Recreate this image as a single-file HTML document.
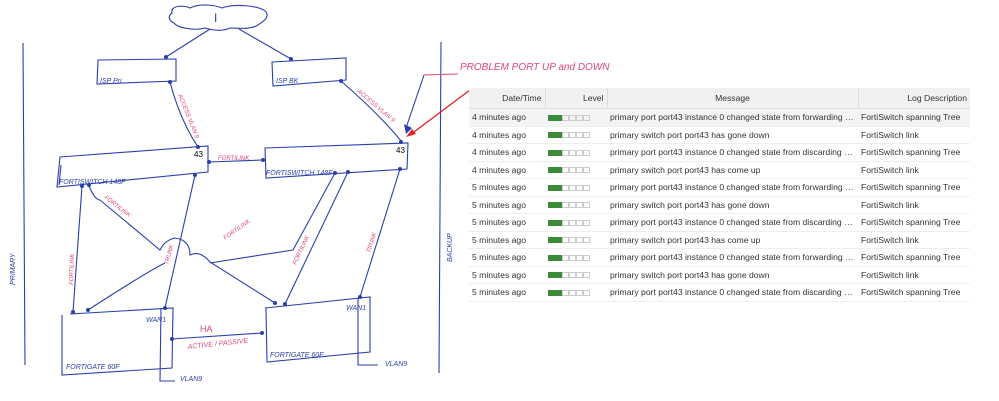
<!DOCTYPE html>
<html><head><meta charset="utf-8"><style>
body{margin:0;width:999px;height:401px;background:#fff;overflow:hidden;position:relative;font-family:"Liberation Sans",sans-serif}
svg{position:absolute;left:0;top:0}
table{position:absolute;left:469px;top:88px;border-collapse:collapse;font-size:8.6px;color:#333;width:501px;table-layout:fixed}
th{background:#f1f1f1;font-weight:normal;height:20px;border-right:1px solid #ddd;border-bottom:1px solid #ddd;padding:0 3px;white-space:nowrap;overflow:hidden}
td{height:16.5px;border-bottom:1px solid #eee;padding:0 3px;white-space:nowrap;overflow:hidden;text-overflow:ellipsis}
tr.f td{background:#f4f4f4}
.lv{display:inline-block;width:7px;height:6px;border:1px solid #ccc;box-sizing:border-box;vertical-align:middle}
.g{background:#3a8a3a;border-color:#3a8a3a}
</style></head><body>
<svg width="999" height="401" viewBox="0 0 999 401" fill="none" stroke="#2a3fae" stroke-width="1.1">
<path d="M172 13 C170 5 185 5 190 8 C200 3 215 5 222 8 C235 3 262 6 266 12 C270 18 262 22 258 25 C250 30 238 28 230 28 C222 32 212 30 205 28 C195 31 178 28 174 23 C168 20 168 16 172 13Z"/>
<text x="214" y="22" font-family="Liberation Sans" font-size="12" fill="#2a3fae" stroke="none">I</text>
<path d="M210 29 L166 57 M239 29 L291 59"/>
<path d="M98 60 L176 59 L176 81 L97 84 Z"/>
<path d="M272 62 L346 58 L346 80 L273 86 Z"/>
<path d="M170 82 Q180 120 198 147 M341 81 Q380 115 402 142"/>
<path d="M60 157 L208 146 L208 172 L57 187 Z M61 165 L59 185"/>
<path d="M265 148 L408 143 L407 169 L266 178 Z"/>
<path d="M209 162 L263 160"/>
<path d="M23 43 L25 365 M441 42 L439 373"/>
<path d="M424 75 L406 128"/>
<path d="M82 186 L73 312 M89 186 Q95 200 100 200 L160 250 Q165 240 175 238 Q190 240 190 255 Q200 250 210 262 L275 303"/>
<path d="M195 175 L165 308"/>
<path d="M335 173 L293 250 L210 263 M165 263 Q150 270 88 310"/>
<path d="M348 172 L285 304 M400 169 L360 297"/>
<path d="M70 314 L173 308 L172 368 L62 375 L62 315 M161 308 L160 381 L175 381"/>
<path d="M265 308 L370 297 L370 352 L267 362 L266 308 M358 298 L358 365 L378 365"/>
<path d="M172 339 L262 333"/>
<g fill="#2a3fae" stroke="none">
<circle cx="166" cy="57" r="2"/><circle cx="291" cy="59" r="2"/><circle cx="170" cy="82" r="2"/><circle cx="341" cy="81" r="2"/>
<circle cx="198" cy="147" r="2"/><circle cx="401" cy="142" r="2"/><circle cx="209" cy="162" r="2"/><circle cx="263" cy="160" r="2"/>
<circle cx="82" cy="186" r="2"/><circle cx="89" cy="185" r="2"/><circle cx="195" cy="175" r="2"/><circle cx="335" cy="173" r="2"/><circle cx="348" cy="172" r="2"/><circle cx="400" cy="169" r="2"/>
<circle cx="73" cy="312" r="2"/><circle cx="88" cy="310" r="2"/><circle cx="165" cy="308" r="2"/><circle cx="275" cy="303" r="2"/><circle cx="285" cy="304" r="2"/><circle cx="360" cy="297" r="2"/>
<circle cx="172" cy="339" r="2"/><circle cx="262" cy="333" r="2"/><path d="M404 124 L412 128 L406 134Z"/>
</g>
<path d="M458 74 L424 75" stroke="#e0457a"/>
<path d="M470 90 L410 135" stroke="#e52222" stroke-width="1.3"/>
<path d="M406 137 L416 134 L412 129Z" fill="#e52222" stroke="none"/>
<g font-family="Liberation Sans" font-size="7" fill="#2a3fae" stroke="none" font-style="italic">
<text x="100" y="83">ISP Pri</text><text x="276" y="83">ISP BK</text>
<text x="59" y="184">FORTISWITCH 148F</text><text x="266" y="175">FORTISWITCH 148F</text>
<text x="66" y="369">FORTIGATE 60F</text><text x="270" y="357">FORTIGATE 60F</text>
<text x="146" y="322">WAN1</text><text x="346" y="310">WAN1</text>
<text x="180" y="381">VLAN9</text><text x="385" y="366">VLAN9</text>
<text x="15" y="285" transform="rotate(-90 15 285)">PRIMARY</text>
<text x="452" y="262" transform="rotate(-90 452 262)">BACKUP</text>
</g>
<g font-family="Liberation Sans" font-size="8" fill="#000" stroke="none"><text x="194" y="157">43</text><text x="396" y="153">43</text></g>
<g font-family="Liberation Sans" font-size="6" fill="#e0457a" stroke="none" font-style="italic">
<text x="460" y="70" font-size="10">PROBLEM PORT UP and DOWN</text>
<text x="218" y="160">FORTILINK</text>
<text x="178" y="95" transform="rotate(68 178 95)">ACCESS VLAN 9</text>
<text x="357" y="92" transform="rotate(40 357 92)">ACCESS VLAN 9</text>
<text x="104" y="198" transform="rotate(38 104 198)">FORTILINK</text>
<text x="73" y="285" transform="rotate(-88 73 285)">FORTILINK</text>
<text x="168" y="265" transform="rotate(-75 168 265)">TRUNK</text>
<text x="225" y="240" transform="rotate(-35 225 240)">FORTILINK</text>
<text x="296" y="265" transform="rotate(-65 296 265)">FORTILINK</text>
<text x="370" y="253" transform="rotate(-72 370 253)">TRUNK</text>
<text x="200" y="332" font-size="9" font-style="normal">HA</text>
<text x="188" y="349" font-size="7" transform="rotate(-6 188 349)">ACTIVE / PASSIVE</text>
</g>
</svg>
<table>
<colgroup><col style="width:76px"><col style="width:62px"><col style="width:251px"><col style="width:112px"></colgroup>
<tr><th style="text-align:right">Date/Time</th><th style="text-align:right">Level</th><th>Message</th><th style="text-align:right;border-right:none">Log Description</th></tr>
<tr class="f"><td>4 minutes ago</td><td><span class="lv g"></span><span class="lv g"></span><span class="lv"></span><span class="lv"></span><span class="lv"></span><span class="lv"></span></td><td>primary port port43 instance 0 changed state from forwarding to di...</td><td>FortiSwitch spanning Tree</td></tr>
<tr><td>4 minutes ago</td><td><span class="lv g"></span><span class="lv g"></span><span class="lv"></span><span class="lv"></span><span class="lv"></span><span class="lv"></span></td><td>primary switch port port43 has gone down</td><td>FortiSwitch link</td></tr>
<tr><td>4 minutes ago</td><td><span class="lv g"></span><span class="lv g"></span><span class="lv"></span><span class="lv"></span><span class="lv"></span><span class="lv"></span></td><td>primary port port43 instance 0 changed state from discarding to fo...</td><td>FortiSwitch spanning Tree</td></tr>
<tr><td>4 minutes ago</td><td><span class="lv g"></span><span class="lv g"></span><span class="lv"></span><span class="lv"></span><span class="lv"></span><span class="lv"></span></td><td>primary switch port port43 has come up</td><td>FortiSwitch link</td></tr>
<tr><td>5 minutes ago</td><td><span class="lv g"></span><span class="lv g"></span><span class="lv"></span><span class="lv"></span><span class="lv"></span><span class="lv"></span></td><td>primary port port43 instance 0 changed state from forwarding to di...</td><td>FortiSwitch spanning Tree</td></tr>
<tr><td>5 minutes ago</td><td><span class="lv g"></span><span class="lv g"></span><span class="lv"></span><span class="lv"></span><span class="lv"></span><span class="lv"></span></td><td>primary switch port port43 has gone down</td><td>FortiSwitch link</td></tr>
<tr><td>5 minutes ago</td><td><span class="lv g"></span><span class="lv g"></span><span class="lv"></span><span class="lv"></span><span class="lv"></span><span class="lv"></span></td><td>primary port port43 instance 0 changed state from discarding to fo...</td><td>FortiSwitch spanning Tree</td></tr>
<tr><td>5 minutes ago</td><td><span class="lv g"></span><span class="lv g"></span><span class="lv"></span><span class="lv"></span><span class="lv"></span><span class="lv"></span></td><td>primary switch port port43 has come up</td><td>FortiSwitch link</td></tr>
<tr><td>5 minutes ago</td><td><span class="lv g"></span><span class="lv g"></span><span class="lv"></span><span class="lv"></span><span class="lv"></span><span class="lv"></span></td><td>primary port port43 instance 0 changed state from forwarding to di...</td><td>FortiSwitch spanning Tree</td></tr>
<tr><td>5 minutes ago</td><td><span class="lv g"></span><span class="lv g"></span><span class="lv"></span><span class="lv"></span><span class="lv"></span><span class="lv"></span></td><td>primary switch port port43 has gone down</td><td>FortiSwitch link</td></tr>
<tr><td>5 minutes ago</td><td><span class="lv g"></span><span class="lv g"></span><span class="lv"></span><span class="lv"></span><span class="lv"></span><span class="lv"></span></td><td>primary port port43 instance 0 changed state from discarding to fo...</td><td>FortiSwitch spanning Tree</td></tr>
</table>
</body></html>
